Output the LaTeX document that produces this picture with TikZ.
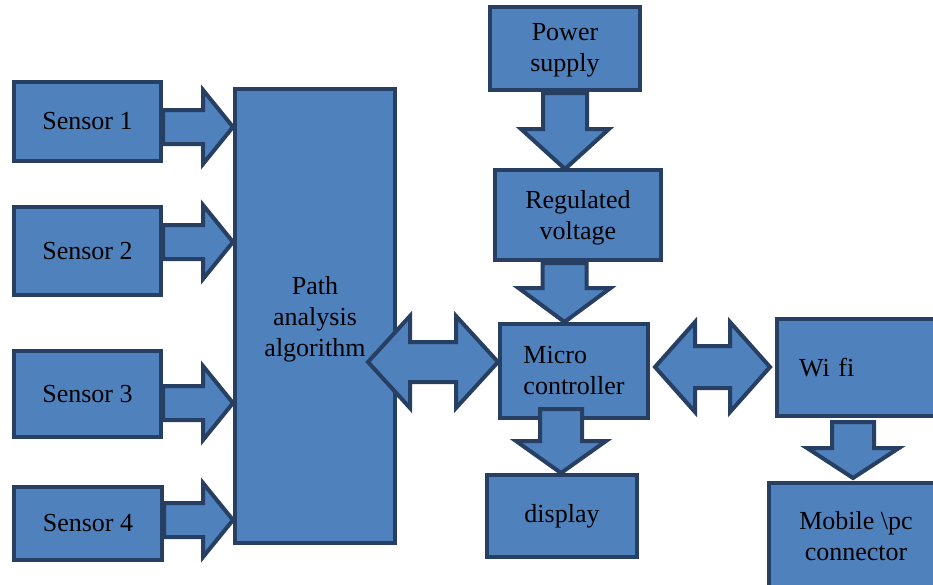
\documentclass[tikz,border=0pt]{standalone}
\usepackage{fontspec}
\setmainfont{Liberation Serif}
\usetikzlibrary{calc}

\definecolor{boxfill}{HTML}{4F81BD}
\definecolor{boxline}{HTML}{263F62}

% block arrows: #1 start, #2 tip, #3 shaft half, #4 head half, #5 head length
\newcommand{\rightblock}[5]{%
  \draw[blockarrow] let \p1=#1, \p2=#2 in
    (\x1,\y1+#3) -- (\x2-#5,\y1+#3) -- (\x2-#5,\y1+#4) -- (\x2,\y1)
    -- (\x2-#5,\y1-#4) -- (\x2-#5,\y1-#3) -- (\x1,\y1-#3) -- cycle;}
\newcommand{\downblock}[5]{%
  \draw[blockarrow] let \p1=#1, \p2=#2 in
    (\x1-#3,\y1) -- (\x1-#3,\y2+#5) -- (\x1-#4,\y2+#5) -- (\x1,\y2)
    -- (\x1+#4,\y2+#5) -- (\x1+#3,\y2+#5) -- (\x1+#3,\y1) -- cycle;}
\newcommand{\twinblock}[5]{%
  \draw[blockarrow] let \p1=#1, \p2=#2 in
    (\x1,\y1) -- (\x1+#5,\y1+#4) -- (\x1+#5,\y1+#3) -- (\x2-#5,\y1+#3)
    -- (\x2-#5,\y1+#4) -- (\x2,\y1) -- (\x2-#5,\y1-#4) -- (\x2-#5,\y1-#3)
    -- (\x1+#5,\y1-#3) -- (\x1+#5,\y1-#4) -- cycle;}

\begin{document}
\begin{tikzpicture}[x=1pt,y=-1pt]
    \tikzset{blocktext/.style = {inner sep=0pt, align=center, font=\fontsize{26}{31}\selectfont}}
    \tikzset{block/.style = {shape=rectangle, draw=boxline, fill=boxfill, line width=4pt, blocktext}}
    \tikzset{blockarrow/.style = {draw=boxline, fill=boxfill, line width=4pt, line join=miter}}
    \useasboundingbox (0,0) rectangle (933,584);

    % sensors
    \node[block, minimum width=147, minimum height=79] (s1) at (87.5,121.5) {Sensor 1};
    \node[block, minimum width=147, minimum height=88] (s2) at (87.5,251) {Sensor 2};
    \node[block, minimum width=147, minimum height=86] (s3) at (87.5,394) {Sensor 3};
    \node[block, minimum width=148, minimum height=73] (s4) at (88,523.5) {Sensor 4};

    \node[block, minimum width=160, minimum height=454,
        label={[blocktext, yshift=-3pt]center:Path\\analysis\\algorithm}] (path) at (315,316) {};

    % supply chain
    \node[block, minimum width=150, minimum height=83,
        label={[blocktext, yshift=-2pt]center:Power\\supply}] (power) at (565,48.5) {};
    \node[block, minimum width=166, minimum height=90,
        label={[blocktext, yshift=-3pt]center:Regulated\\voltage}] (reg) at (578,215) {};
    \node[block, minimum width=148, minimum height=94, align=left] (micro) at (574,371) {Micro\\controller};
    \node[block, minimum width=150, minimum height=82] (display) at (562,516) {display};

    % wireless side
    \node[block, minimum width=200, minimum height=97, text width=156, align=left] (wifi) at (877,367.5) {Wi fi};
    \node[block, minimum width=174, minimum height=114,
        label={[blocktext, yshift=4pt]center:Mobile \textbackslash pc\\connector}] (mobile) at (856,540) {};

    \rightblock{(s1.east |- 0,127)}{(path.west |- 0,127)}{17pt}{37pt}{30pt}
    \rightblock{(s2.east |- 0,242)}{(path.west |- 0,242)}{17pt}{37pt}{30pt}
    \rightblock{(s3.east |- 0,403)}{(path.west |- 0,403)}{17pt}{37pt}{30pt}
    \rightblock{(s4.east |- 0,520)}{(path.west |- 0,520)}{17pt}{37pt}{30pt}

    \twinblock{($(path.east |- 0,362)+(-29,0)$)}{(micro.west |- 0,362)}{20pt}{46pt}{42pt}
    \twinblock{($(micro.east |- 0,367)+(5,0)$)}{($(wifi.west |- 0,367)+(-5,0)$)}{21pt}{45pt}{40pt}

    \downblock{($(power.south)+(0,1)$)}{($(reg.north)+(-13,1)$)}{22pt}{44pt}{40pt}
    \downblock{($(reg.south)+(-13.5,1)$)}{(micro.north)}{22pt}{46pt}{34pt}
    \downblock{($(micro.south)+(-13,-11)$)}{(display.north)}{21pt}{45pt}{32pt}
    \downblock{($(wifi.south)+(-24,4)$)}{($(mobile.north)+(-3,-3)$)}{21pt}{46pt}{30pt}
\end{tikzpicture}
\end{document}
